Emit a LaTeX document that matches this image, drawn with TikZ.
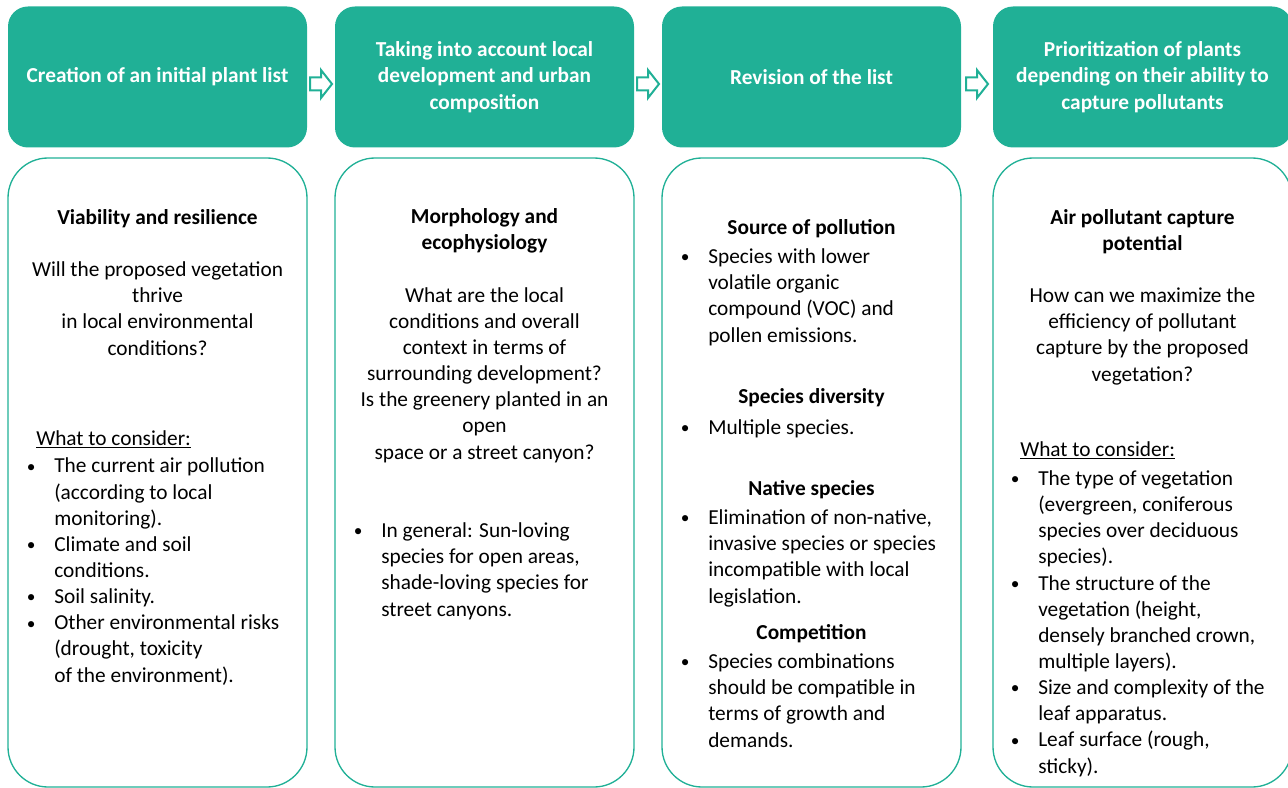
\documentclass[tikz,border=0pt]{standalone}
\usepackage{fontspec}
\setmainfont{Carlito}
\usetikzlibrary{calc,positioning}
\definecolor{tealc}{RGB}{32,176,150}
\newcommand{\bul}{\llap{\raisebox{0.5pt}{\fontsize{13}{13}\selectfont\textbullet}\hspace{14pt}}}

\begin{document}
\begin{tikzpicture}[x=0.75pt,y=-0.75pt,
  head/.style={fill=tealc,rounded corners=15pt,minimum width=224.25pt,minimum height=105.75pt,inner sep=0pt,
    text=white,font=\bfseries\fontsize{16}{19.9}\selectfont,align=center},
  panel/.style={draw=tealc,line width=1pt,rounded corners=30pt,minimum width=224.25pt,minimum height=471.75pt},
  ctxt/.style={font=\fontsize{16}{19.6}\selectfont,align=center,inner sep=0pt,anchor=base},
  ltxt/.style={font=\fontsize{16}{19.6}\selectfont,align=left,inner sep=0pt,anchor=base west},
  arr/.style={draw=tealc,line width=1.5pt,fill=white}]
\useasboundingbox (0,0) rectangle (1288,788);

% step headers
\node[head] (h1) at (157.5,77) {Creation of an initial plant list};
\node[head] (h2) at (484.5,77) {Taking into account local\\development and urban\\composition};
\node[head] (h3) at (811.5,77) {Revision of the list};
\node[head] (h4) at (1142.5,77) {Prioritization of plants\\depending on their ability to\\capture pollutants};
\foreach \a/\b in {h1/h2,h2/h3,h3/h4}
  \draw[arr] ($(\a.east)!0.5!(\b.west)+(-11,0.5)$) -- ++(11,0) -- ++(0,-7.5) -- ++(11,14) -- ++(-11,14) -- ++(0,-7.5) -- ++(-11,0) -- cycle;

% panels
\node[panel] (p1) at (157.5,472.5) {};
\node[panel] (p2) at (484.5,472.5) {};
\node[panel] (p3) at (811.5,472.5) {};
\node[panel] (p4) at (1142.5,472.5) {};

% column 1 (y = baseline of last line)
\node[ctxt] (t1) at (157.5,355) {\textbf{Viability and resilience}\\[19.6pt]Will the proposed vegetation\\thrive\\in local environmental\\conditions?};
\node[ltxt] (w1) at (36,445) {\underline{What to consider:}};
\node[ltxt] (l1) at (54,682) {\bul The current air pollution\\(according to local\\monitoring).\\\bul Climate and soil\\conditions.\\\bul Soil salinity.\\\bul Other environmental risks\\(drought, toxicity\\of the environment).};

% column 2
\node[ctxt] (t2) at (484.5,459) {\textbf{Morphology and}\\\textbf{ecophysiology}\\[19.6pt]What are the local\\conditions and overall\\context in terms of\\surrounding development?\\Is the greenery planted in an\\open\\space or a street canyon?};
\node[ltxt] (l2) at (381,616) {\bul In general: Sun-loving\\species for open areas,\\shade-loving species for\\street canyons.};

% column 3
\node[ctxt] (s1) at (811.5,234) {\textbf{Source of pollution}};
\node[ltxt] (l3a) at (708,342) {\bul Species with lower\\volatile organic\\compound (VOC) and\\pollen emissions.};
\node[ctxt] (s2) at (811.5,403) {\textbf{Species diversity}};
\node[ltxt] (l3b) at (708,434) {\bul Multiple species.};
\node[ctxt] (s3) at (811.5,495) {\textbf{Native species}};
\node[ltxt] (l3c) at (708,603) {\bul Elimination of non-native,\\invasive species or species\\incompatible with local\\legislation.};
\node[ctxt] (s4) at (811.5,639) {\textbf{Competition}};
\node[ltxt] (l3d) at (708,747) {\bul Species combinations\\should be compatible in\\terms of growth and\\demands.};

% column 4
\node[ctxt] (t4) at (1142.5,381) {\textbf{Air pollutant capture}\\\textbf{potential}\\[19.6pt]How can we maximize the\\efficiency of pollutant\\capture by the proposed\\vegetation?};
\node[ltxt] (w4) at (1020,456) {\underline{What to consider:}};
\node[ltxt] (l4) at (1038,773) {\bul The type of vegetation\\(evergreen, coniferous\\species over deciduous\\species).\\\bul The structure of the\\vegetation (height,\\densely branched crown,\\multiple layers).\\\bul Size and complexity of the\\leaf apparatus.\\\bul Leaf surface (rough,\\sticky).};
\end{tikzpicture}
\end{document}
